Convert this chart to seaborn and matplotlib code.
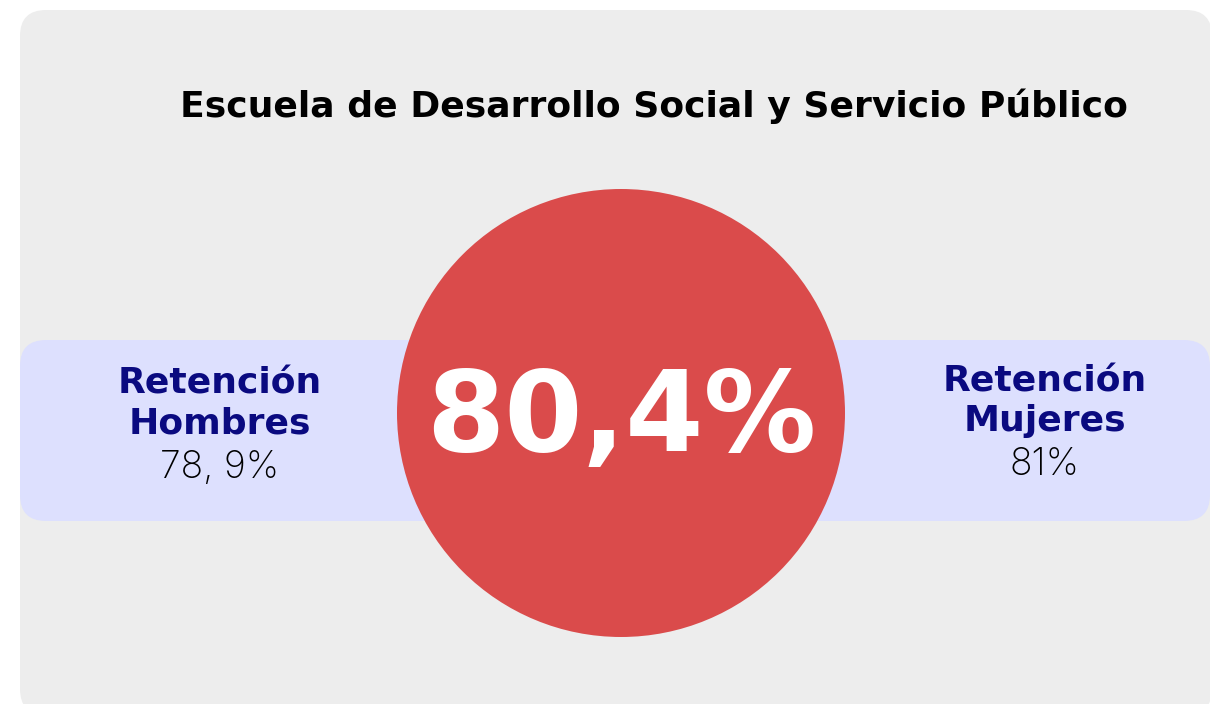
import matplotlib.pyplot as plt
import seaborn as sns
import pandas as pd
from matplotlib.patches import FancyBboxPatch

# datos
titulo = "Escuela de Desarrollo Social y Servicio Público"
retencion_total = "80,4%"
etiquetas = ["Retención\nHombres", "Retención\nMujeres"]
valores = ["78, 9%", "81%"]

sns.set_theme(style="white")
plt.rcParams['font.family'] = ['DejaVu Sans']
negrita = ['DejaVu Sans']
fina = ['Inter', 'DejaVu Sans']

fig = plt.figure(figsize=(12.1, 7.04), dpi=100)
ax = fig.add_axes([0, 0, 1, 1])

# panel gris
ax.add_patch(FancyBboxPatch((20, 10), 1192, 705, boxstyle="round,pad=0,rounding_size=26",
                            fc='#EDEDED', ec='none', zorder=0))
# banda lavanda
ax.add_patch(FancyBboxPatch((20, 340), 1190, 181, boxstyle="round,pad=0,rounding_size=26",
                            fc='#DDE0FE', ec='none', zorder=1))

# circulo central
df = pd.DataFrame({'x': [621], 'y': [413], 'valor': [retencion_total]})
sns.scatterplot(data=df, x='x', y='y', s=(448 * 0.72) ** 2, color='#DA4B4B',
                edgecolor='none', linewidth=0, ax=ax, zorder=2, legend=False)
ax.set_xlim(0, 1210)
ax.set_ylim(704, 0)
ax.set_aspect('equal')
ax.axis('off')

ax.text(654, 106, titulo, family=negrita, ha='center', va='center', fontsize=26,
        fontweight='bold', color='black', zorder=3)
ax.text(621, 420, retencion_total, family=negrita, ha='center', va='center', fontsize=81,
        fontweight='bold', color='white', zorder=3)

for cx, ytop, etiqueta, valor in zip([220, 1045], [384, 381], etiquetas, valores):
    l1, l2 = etiqueta.split('\n')
    ax.text(cx, ytop, l1, family=negrita, ha='center', va='center', fontsize=26,
            fontweight='bold', color='#0A0A80', zorder=3)
    ax.text(cx, ytop + 40, l2, family=negrita, ha='center', va='center', fontsize=26,
            fontweight='bold', color='#0A0A80', zorder=3)
    ax.text(cx, ytop + 84, valor, family=fina, ha='center', va='center', fontsize=27,
            fontweight='light', color='black', zorder=3)

fig.savefig('out.png', dpi=100, facecolor='white')
